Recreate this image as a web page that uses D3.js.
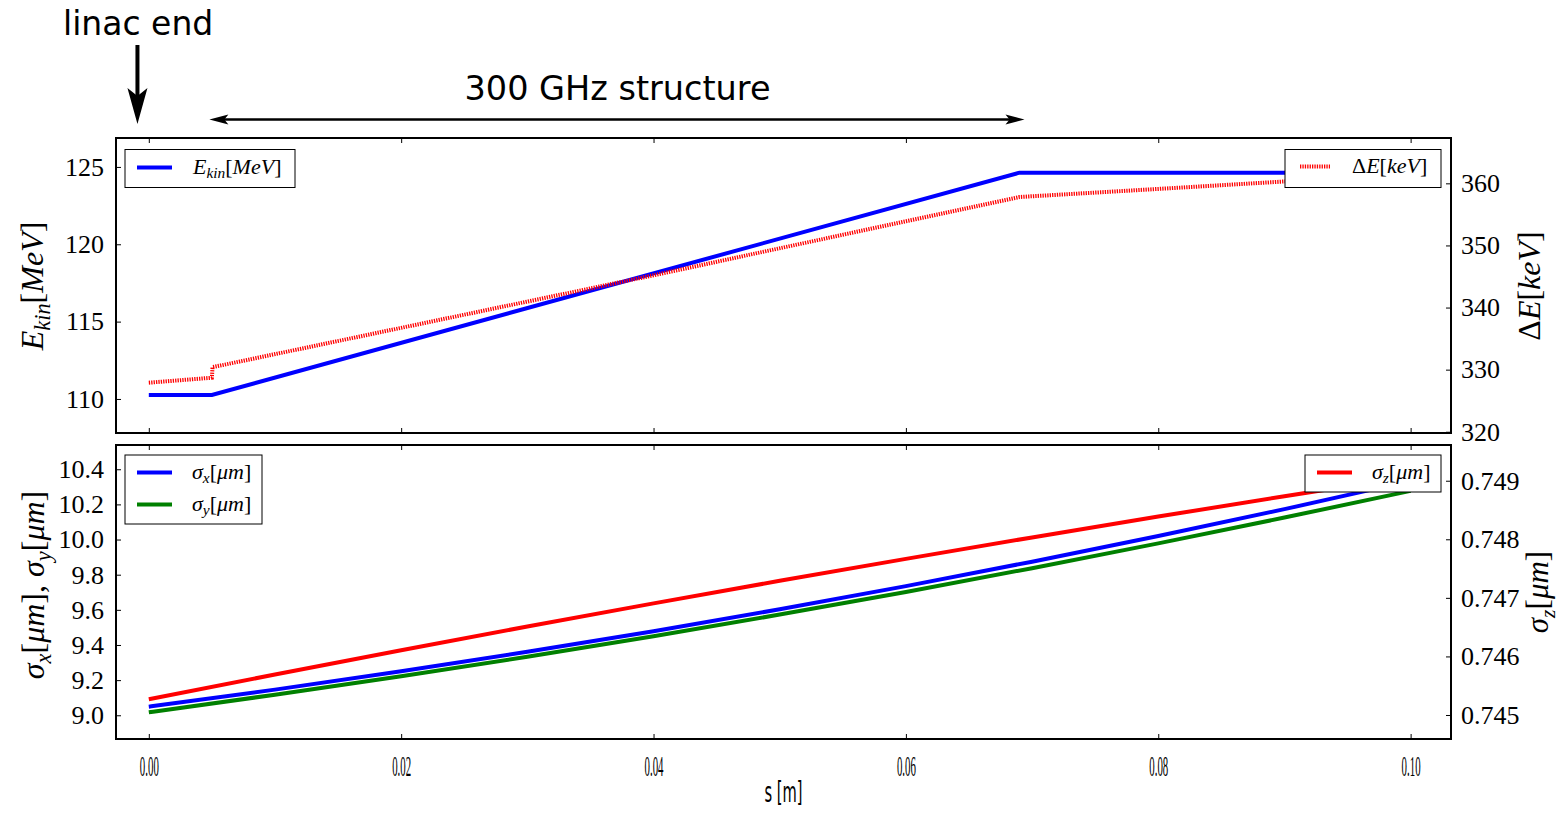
<!DOCTYPE html>
<html>
<head>
<meta charset="utf-8">
<script src="https://cdn.jsdelivr.net/npm/d3@7"></script>
<style>
  body { margin: 0; background: #fff; }
  svg { display: block; }
</style>
</head>
<body>
<svg id="chart" width="1561" height="815"></svg>
<script>
// ---------------- data ----------------
const xTicks = [0.00, 0.02, 0.04, 0.06, 0.08, 0.10];
const ekinTicks = [110, 115, 120, 125];
const dETicks = [320, 330, 340, 350, 360];
const sigmaTicks = [9.0, 9.2, 9.4, 9.6, 9.8, 10.0, 10.2, 10.4];
const sigmaZTicks = [0.745, 0.746, 0.747, 0.748, 0.749];

const sEkin = [0, 0.005, 0.069, 0.1];
const ekin  = [110.26, 110.26, 124.63, 124.63];

const sDE = [0, 0.005, 0.00505, 0.04, 0.069, 0.08, 0.09, 0.1];
const dE  = [327.9, 328.7, 330.4, 345.2, 357.8, 359.1, 360.3, 361.4];

const sSigma = [0, 0.01, 0.02, 0.03, 0.04, 0.05, 0.06, 0.07, 0.08, 0.09, 0.10];
const sigmaX = [9.049, 9.146, 9.250, 9.361, 9.478, 9.603, 9.735, 9.874, 10.020, 10.173, 10.334];
const sigmaY = [9.017, 9.117, 9.222, 9.333, 9.450, 9.573, 9.702, 9.837, 9.978, 10.125, 10.277];
const sigmaZ = [0.745268, 0.745692, 0.746106, 0.746511, 0.746906, 0.747291, 0.747666, 0.748032, 0.748388, 0.748735, 0.749072];

// ---------------- layout ----------------
const svg = d3.select("#chart");
const L = 116, R = 1451;
const top1 = 138, bot1 = 433;
const top2 = 445, bot2 = 739;
const serif = "'Liberation Serif', 'DejaVu Serif', serif";
const sans = "'DejaVu Sans', sans-serif";
const tickFont = 26;

const x = d3.scaleLinear().domain([-0.0026, 0.1032]).range([L, R]);
const yE = d3.scaleLinear().domain([107.8, 126.87]).range([bot1, top1]);
const yDE = d3.scaleLinear().domain([319.8, 367.3]).range([bot1, top1]);
const yS = d3.scaleLinear().domain([8.865, 10.538]).range([bot2, top2]);
const ySZ = d3.scaleLinear().domain([0.74459, 0.74961]).range([bot2, top2]);

// clip paths
const defs = svg.append("defs");
defs.append("clipPath").attr("id", "clip1").append("rect")
  .attr("x", L).attr("y", top1).attr("width", R - L).attr("height", bot1 - top1);
defs.append("clipPath").attr("id", "clip2").append("rect")
  .attr("x", L).attr("y", top2).attr("width", R - L).attr("height", bot2 - top2);

// math text helper
function mathText(sel, parts, size) {
  let shift = 0;
  parts.forEach(p => {
    const ts = sel.append("tspan").text(p.t)
      .attr("font-style", (p.it || p.sub) ? "italic" : "normal")
      .attr("font-size", p.sub ? size * 0.7 : size);
    const target = p.sub ? size * 0.22 : 0;
    ts.attr("dy", target - shift);
    shift = target;
  });
  return sel;
}

// ---------------- axes helper ----------------
function styleAxis(g) {
  g.attr("font-size", null).attr("font-family", null);
  g.select(".domain").remove();
  g.selectAll(".tick line").attr("stroke", "#000").attr("stroke-width", 1);
  g.selectAll(".tick text").attr("font-family", serif).style("font-size", tickFont + "px").attr("fill", "#000");
}

function panel(y0, y1, yl, yr, lt, rt, lfmt, rfmt, showX) {
  const gxb = svg.append("g").attr("transform", `translate(0,${y1})`)
    .call(d3.axisBottom(x).tickValues(xTicks).tickSize(-5).tickPadding(18).tickFormat(d3.format(".2f")));
  styleAxis(gxb);
  if (!showX) gxb.selectAll(".tick text").remove();
  else {
    gxb.selectAll(".tick text")
      .style("font-size", "29px")
      .attr("textLength", 19).attr("lengthAdjust", "spacingAndGlyphs")
      .attr("dy", "0.71em").attr("y", 16);
  }
  const gxt = svg.append("g").attr("transform", `translate(0,${y0})`)
    .call(d3.axisTop(x).tickValues(xTicks).tickSize(-5).tickFormat(""));
  styleAxis(gxt);
  const gl = svg.append("g").attr("transform", `translate(${L},0)`)
    .call(d3.axisLeft(yl).tickValues(lt).tickSize(-5).tickPadding(12).tickFormat(d3.format(lfmt)));
  styleAxis(gl);
  const gr = svg.append("g").attr("transform", `translate(${R},0)`)
    .call(d3.axisRight(yr).tickValues(rt).tickSize(-5).tickPadding(10).tickFormat(d3.format(rfmt)));
  styleAxis(gr);
}

panel(top1, bot1, yE, yDE, ekinTicks, dETicks, "d", "d", false);
panel(top2, bot2, yS, ySZ, sigmaTicks, sigmaZTicks, ".1f", ".3f", true);

// ---------------- lines ----------------
const g1 = svg.append("g").attr("clip-path", "url(#clip1)");
const g2 = svg.append("g").attr("clip-path", "url(#clip2)");

const lineE = d3.line().x((d, i) => x(sEkin[i])).y(d => yE(d));
const lineDE = d3.line().x((d, i) => x(sDE[i])).y(d => yDE(d));
g1.append("path").datum(ekin).attr("d", lineE)
  .attr("fill", "none").attr("stroke", "#0000ff").attr("stroke-width", 4).attr("stroke-linejoin", "miter");
g1.append("path").datum(dE).attr("d", lineDE)
  .attr("fill", "none").attr("stroke", "#ff0000").attr("stroke-width", 4).attr("stroke-dasharray", "1.3,1.1");

const lineS = (ys) => d3.line().x((d, i) => x(sSigma[i])).y(d => ys(d)).curve(d3.curveMonotoneX);
g2.append("path").datum(sigmaZ).attr("d", lineS(ySZ))
  .attr("fill", "none").attr("stroke", "#ff0000").attr("stroke-width", 4);
g2.append("path").datum(sigmaX).attr("d", lineS(yS))
  .attr("fill", "none").attr("stroke", "#0000ff").attr("stroke-width", 4);
g2.append("path").datum(sigmaY).attr("d", lineS(yS))
  .attr("fill", "none").attr("stroke", "#008000").attr("stroke-width", 4);

// ---------------- legends ----------------
const legFont = 22;
function legend(bx, by, bw, bh, entries) {
  const g = svg.append("g");
  g.append("rect").attr("x", bx).attr("y", by).attr("width", bw).attr("height", bh)
    .attr("fill", "#fff").attr("stroke", "#000").attr("stroke-width", 1);
  entries.forEach(e => {
    g.append("line").attr("x1", e.x1).attr("x2", e.x2).attr("y1", e.y).attr("y2", e.y)
      .attr("stroke", e.color).attr("stroke-width", 4)
      .attr("stroke-dasharray", e.dash || null);
    const t = g.append("text").attr("x", e.tx).attr("y", e.y + 6)
      .attr("font-family", serif).attr("fill", "#000");
    mathText(t, e.parts, legFont);
  });
}
legend(125, 149.5, 170, 38, [
  { x1: 137, x2: 172, y: 167.5, color: "#0000ff", tx: 193,
    parts: [{ t: "E", it: true }, { t: "kin", sub: true }, { t: "[" }, { t: "MeV", it: true }, { t: "]" }] }
]);
legend(1285, 149.5, 156, 38, [
  { x1: 1300, x2: 1330, y: 166.5, color: "#ff0000", dash: "1.3,1.1", tx: 1352,
    parts: [{ t: "\u0394" }, { t: "E", it: true }, { t: "[" }, { t: "keV", it: true }, { t: "]" }] }
]);
legend(125, 455, 137, 69, [
  { x1: 137, x2: 172, y: 472.5, color: "#0000ff", tx: 192,
    parts: [{ t: "\u03c3", it: true }, { t: "x", sub: true }, { t: "[" }, { t: "\u03bcm", it: true }, { t: "]" }] },
  { x1: 137, x2: 172, y: 504.5, color: "#008000", tx: 192,
    parts: [{ t: "\u03c3", it: true }, { t: "y", sub: true }, { t: "[" }, { t: "\u03bcm", it: true }, { t: "]" }] }
]);
legend(1305, 455, 136, 37, [
  { x1: 1317, x2: 1352, y: 472.5, color: "#ff0000", tx: 1372,
    parts: [{ t: "\u03c3", it: true }, { t: "z", sub: true }, { t: "[" }, { t: "\u03bcm", it: true }, { t: "]" }] }
]);

// ---------------- frames ----------------
[[top1, bot1], [top2, bot2]].forEach(([a, b]) => {
  svg.append("rect").attr("x", L).attr("y", a).attr("width", R - L).attr("height", b - a)
    .attr("fill", "none").attr("stroke", "#000").attr("stroke-width", 2);
});

// ---------------- axis labels ----------------
function vLabel(cx, cy, parts, size) {
  const t = svg.append("text")
    .attr("transform", `translate(${cx},${cy}) rotate(-90)`)
    .attr("text-anchor", "middle").attr("font-family", serif).attr("fill", "#000");
  mathText(t, parts, size);
}
vLabel(43, 286, [{ t: "E", it: true }, { t: "kin", sub: true }, { t: "[" }, { t: "MeV", it: true }, { t: "]" }], 32);
vLabel(1540, 286, [{ t: "\u0394" }, { t: "E", it: true }, { t: "[" }, { t: "keV", it: true }, { t: "]" }], 32);
vLabel(44, 585, [{ t: "\u03c3", it: true }, { t: "x", sub: true }, { t: "[" }, { t: "\u03bcm", it: true }, { t: "], " },
  { t: "\u03c3", it: true }, { t: "y", sub: true }, { t: "[" }, { t: "\u03bcm", it: true }, { t: "]" }], 32);
vLabel(1548, 592, [{ t: "\u03c3", it: true }, { t: "z", sub: true }, { t: "[" }, { t: "\u03bcm", it: true }, { t: "]" }], 31);

svg.append("text").attr("x", (L + R) / 2 + 0).attr("y", 802)
  .attr("text-anchor", "middle").attr("font-family", sans).attr("font-size", 28)
  .attr("textLength", 38).attr("lengthAdjust", "spacingAndGlyphs").text("s [m]");

// ---------------- annotations ----------------
svg.append("text").attr("x", 63).attr("y", 35).attr("font-family", sans).attr("font-size", 33)
  .attr("fill", "#000").text("linac end");
svg.append("text").attr("x", 617.5).attr("y", 100).attr("text-anchor", "middle")
  .attr("font-family", sans).attr("font-size", 33.5).attr("fill", "#000").text("300 GHz structure");

// vertical arrow (linac end)
const ax = x(-0.0009);
svg.append("line").attr("x1", ax).attr("x2", ax).attr("y1", 45).attr("y2", 100)
  .attr("stroke", "#000").attr("stroke-width", 4);
svg.append("path")
  .attr("d", `M${ax - 10},88 L${ax},124 L${ax + 10},88 L${ax},96 Z`)
  .attr("fill", "#000");

// horizontal double arrow (structure)
const hx1 = x(0.0048), hx2 = x(0.0694), hy = 119.5;
svg.append("line").attr("x1", hx1 + 6).attr("x2", hx2 - 6).attr("y1", hy).attr("y2", hy)
  .attr("stroke", "#000").attr("stroke-width", 2.5);
svg.append("path").attr("d", `M${hx1},${hy} L${hx1 + 19},${hy - 5} L${hx1 + 15},${hy} L${hx1 + 19},${hy + 5} Z`).attr("fill", "#000");
svg.append("path").attr("d", `M${hx2},${hy} L${hx2 - 19},${hy - 5} L${hx2 - 15},${hy} L${hx2 - 19},${hy + 5} Z`).attr("fill", "#000");
</script>
</body>
</html>
